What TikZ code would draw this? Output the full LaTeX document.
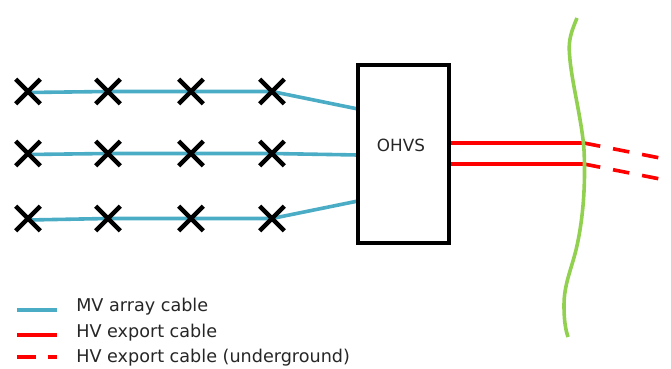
\documentclass[tikz,border=0pt]{standalone}
\usepackage{fontspec}
\setmainfont{DejaVu Sans}
\usetikzlibrary{shapes.misc,backgrounds}
\definecolor{mvblue}{HTML}{4BACC6}
\definecolor{hvred}{HTML}{FF0000}
\definecolor{bndgreen}{HTML}{92D050}
\tikzset{
 x=0.75pt,y=-0.75pt,
 turbine/.style={cross out,draw=black,line width=3.3pt,minimum size=18.5pt,inner sep=0pt,outer sep=0pt},
 mvcable/.style={draw=mvblue,line width=2.7pt},
 hvcable/.style={draw=hvred,line width=2.7pt},
 hvunder/.style={draw=hvred,line width=2.7pt,dash pattern=on 12.4pt off 9.8pt},
 boundary/.style={draw=bndgreen,line width=2.7pt},
 station/.style={draw=black,line width=2.4pt,minimum width=68.25pt,minimum height=133.5pt,inner sep=0pt},
 legendtext/.style={font=\fontsize{13.2pt}{15pt}\selectfont,anchor=base west,inner sep=0pt,text=black!85},
}
\begin{document}
\begin{tikzpicture}
\useasboundingbox (0,0) rectangle (671,368);
% turbines
\foreach \r/\yy in {a/91.5,b/153.5,c/218.5}{
  \foreach \c/\xx in {1/28,2/108,3/191,4/272}{
    \node[turbine] (t\r\c) at (\xx,\yy) {};
  }
}
\node[station] (ohvs) at (403.5,154) {};
\node[font=\fontsize{12.6pt}{14pt}\selectfont,inner sep=0pt,text=black!85] (ohvslabel) at (401,145) {OHVS};
% connection points
\coordinate (ia) at (358,109);
\coordinate (ib) at (358,155);
\coordinate (ic) at (358,201);
\coordinate (ha) at (450,143);
\coordinate (hb) at (450,164);
\coordinate (ga) at (584,143);
\coordinate (gb) at (584,164);
\coordinate (da) at (660,158);
\coordinate (db) at (660,179);
\coordinate (sa) at (28,92.5);
\coordinate (sb) at (28,154.5);
\coordinate (sc) at (28,220);
\begin{pgfonlayer}{background}
  \draw[mvcable] (sa) -- (ta2.center) -- (ta3.center) -- (ta4.center) -- (ia);
  \draw[mvcable] (sb) -- (tb2.center) -- (tb3.center) -- (tb4.center) -- (ib);
  \draw[mvcable] (sc) -- (tc2.center) -- (tc3.center) -- (tc4.center) -- (ic);
  \draw[hvunder] (ga) -- (da);
  \draw[hvunder] (gb) -- (db);
  \draw[hvcable] (ha) -- (ga);
  \draw[hvcable] (hb) -- (gb);
\end{pgfonlayer}
% boundary
\draw[boundary,line cap=butt] (577,18) .. controls (572,30) and (568,40) .. (569.5,54)
  .. controls (571,80) and (582,120) .. (584,150)
  .. controls (586,190) and (582,225) .. (576,250)
  .. controls (571,270) and (564,285) .. (564,305)
  .. controls (564,318) and (565,328) .. (568,337);
% legend
\coordinate (l1a) at (17,310); \coordinate (l1b) at (57,310);
\coordinate (l2a) at (17,335); \coordinate (l2b) at (57,335);
\coordinate (l3a) at (17,357); \coordinate (l3b) at (57,357);
\draw[mvcable] (l1a) -- (l1b);
\draw[hvcable] (l2a) -- (l2b);
\draw[draw=hvred,line width=2.7pt,dash pattern=on 14pt off 9pt] (l3a) -- (l3b);
\node[legendtext] (t1) at (76,311.5) {MV array cable};
\node[legendtext] (t2) at (76,337.5) {HV export cable};
\node[legendtext] (t3) at (76,362) {HV export cable (underground)};
\end{tikzpicture}
\end{document}
